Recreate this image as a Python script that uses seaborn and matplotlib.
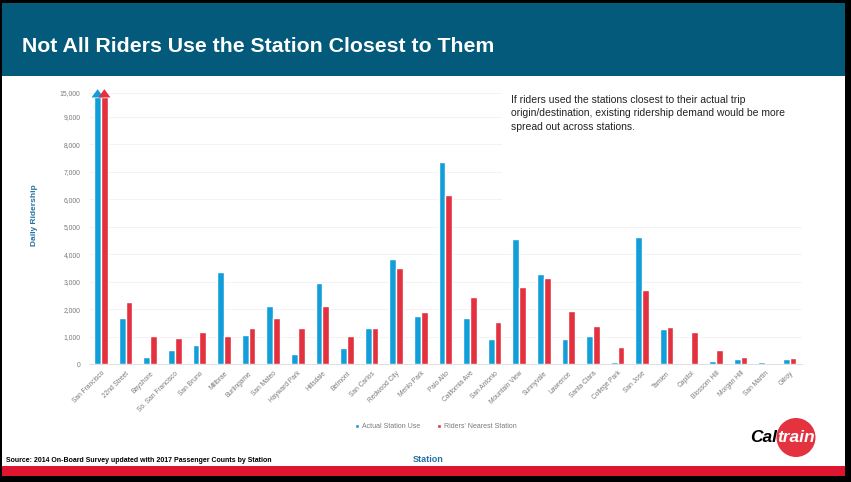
import numpy as np
import pandas as pd
import matplotlib
matplotlib.use("Agg")
import matplotlib.pyplot as plt
from matplotlib.patches import Rectangle, Circle, Polygon
import seaborn as sns

# ---------------- data ----------------
stations = ["San Francisco", "22nd Street", "Bayshore", "So. San Francisco", "San Bruno",
            "Millbrae", "Burlingame", "San Mateo", "Hayward Park", "Hillsdale", "Belmont",
            "San Carlos", "Redwood City", "Menlo Park", "Palo Alto", "California Ave",
            "San Antonio", "Mountain View", "Sunnyvale", "Lawrence", "Santa Clara",
            "College Park", "San Jose", "Tamien", "Capitol", "Blossom Hill", "Morgan Hill",
            "San Martin", "Gilroy"]
actual_use = [15000, 1690, 250, 520, 700, 3340, 1065, 2110, 380, 2960, 600,
              1330, 3830, 1756, 7370, 1670, 910, 4560, 3280, 910, 1030,
              80, 4630, 1280, 60, 110, 190, 70, 180]
nearest_station = [15000, 2250, 1040, 970, 1160, 1020, 1310, 1670, 1320, 2120, 1030,
                   1310, 3510, 1900, 6160, 2460, 1530, 2820, 3150, 1930, 1390,
                   640, 2710, 1370, 1160, 520, 265, 60, 230]
series_names = ["Actual Station Use", "Riders' Nearest Station"]
ytick_values = [0, 1000, 2000, 3000, 4000, 5000, 6000, 7000, 8000, 9000]
ytick_labels = ["0", "1,000", "2,000", "3,000", "4,000", "5,000", "6,000", "7,000",
                "8,000", "9,000", "15,000"]

title = "Not All Riders Use the Station Closest to Them"
note = ("If riders used the stations closest to their actual trip\n"
        "origin/destination, existing ridership demand would be more\n"
        "spread out across stations.")
source = "Source: 2014 On-Board Survey updated with 2017 Passenger Counts by Station"

# ---------------- style ----------------
BLUE = "#129ED9"
RED = "#E3313F"
TEAL = "#035A7A"
BAND_RED = "#DF1530"
LABEL_BLUE = "#2472A4"
GRAY = "#7A7A7A"

AXIS_BREAK = 9700   # bars above the axis break are clipped here and get an arrowhead
BREAK_TICK = 9870   # position of the "15,000" tick

sns.set_theme(style="white")
plt.rcParams["font.family"] = ["Liberation Sans", "DejaVu Sans"]

W, H = 851, 482
fig = plt.figure(figsize=(W / 100, H / 100), dpi=100)
fig.patch.set_facecolor("white")

# pixel-coordinate overlay for slide decorations
deco = fig.add_axes([0, 0, 1, 1], zorder=0)
deco.set_xlim(0, W)
deco.set_ylim(H, 0)
deco.axis("off")

# black frame
deco.add_patch(Rectangle((0, 0), W, H, facecolor="black", edgecolor="none", zorder=0))
deco.add_patch(Rectangle((2, 3), 843, 473, facecolor="white", edgecolor="none", zorder=1))
# header band
deco.add_patch(Rectangle((2, 3), 843, 73, facecolor=TEAL, edgecolor="none", zorder=2))
# bottom red band
deco.add_patch(Rectangle((2, 466), 843, 10, facecolor=BAND_RED, edgecolor="none", zorder=2))

deco.text(22, 47, title, color="white", fontsize=15.3, fontweight="bold",
          ha="left", va="center", zorder=3)
deco.text(6, 461, source, color="black", fontsize=5.0, fontweight="bold",
          ha="left", va="center", zorder=3)

# Caltrain logo
deco.add_patch(Circle((796, 437.5), 19.5, facecolor="#E4323F", edgecolor="none", zorder=3))
deco.text(777.5, 437, "Cal", color="black", fontsize=12.5, fontweight="bold",
          fontstyle="italic", ha="right", va="center", zorder=4)
deco.text(777, 437, "train", color="white", fontsize=12.5, fontweight="bold",
          fontstyle="italic", ha="left", va="center", zorder=4)

# axis titles
deco.text(35, 215, "Daily Ridership", color=LABEL_BLUE, fontsize=6, fontweight="bold",
          rotation=90, ha="center", va="center", zorder=3)
deco.text(428, 460, "Station", color=LABEL_BLUE, fontsize=6.5, fontweight="bold",
          ha="center", va="center", zorder=3)

# ---------------- chart ----------------
ax_left, ax_right = 88.7, 802.0
y0_px, px_per_unit = 364.3, 27.51 / 1000
ytop = 10100
ax = fig.add_axes([ax_left / W, (H - y0_px) / H, (ax_right - ax_left) / W,
                   ytop * px_per_unit / H], zorder=2)
ax.patch.set_alpha(0)

df = pd.DataFrame({
    "station": stations * 2,
    "series": [series_names[0]] * len(stations) + [series_names[1]] * len(stations),
    "value": actual_use + nearest_station,
})
df["shown"] = np.minimum(df["value"], AXIS_BREAK)

sns.barplot(data=df, x="station", y="shown", hue="series", order=stations,
            hue_order=series_names, palette=[BLUE, RED], width=0.55, gap=0,
            saturation=1, ax=ax, zorder=3)

# arrowheads on clipped bars
for p in list(ax.patches):
    h = p.get_height()
    if h >= AXIS_BREAK - 1:
        x0, w = p.get_x(), p.get_width()
        ax.add_patch(Polygon([(x0 - w * 0.4, h), (x0 + w * 1.4, h), (x0 + w / 2, h + 300)],
                             closed=True, facecolor=p.get_facecolor(), edgecolor="none",
                             zorder=3))

ax.set_ylim(0, ytop)
ax.set_xlim(-0.5, len(stations) - 0.5)
ax.set_yticks(ytick_values + [BREAK_TICK])
ax.set_yticklabels(ytick_labels, fontsize=4.9, color=GRAY)
ax.set_xticks(range(len(stations)))
ax.set_xticklabels(stations, fontsize=4.8, color=GRAY, rotation=45, ha="right",
                   rotation_mode="anchor")
ax.tick_params(axis="both", length=0)
ax.tick_params(axis="y", pad=6)
ax.tick_params(axis="x", pad=4)
ax.set_xlabel("")
ax.set_ylabel("")
ax.grid(axis="y", color="#F1F1F1", linewidth=0.6, zorder=0)
ax.set_axisbelow(True)
for s in ["top", "right", "left"]:
    ax.spines[s].set_visible(False)
ax.spines["bottom"].set_color("#D9D9D9")
ax.spines["bottom"].set_linewidth(0.6)

handles, labels = ax.get_legend_handles_labels()
if ax.get_legend() is not None:
    ax.get_legend().remove()
fig.legend(handles, labels, loc="center", bbox_to_anchor=(436 / W, 1 - 427 / H),
           bbox_transform=fig.transFigure, ncol=2, frameon=False, fontsize=5.0,
           labelcolor=GRAY, handlelength=0.6, handleheight=0.6, handletextpad=0.4,
           columnspacing=2.4)

# text box overlay (covers the gridlines behind it)
top = fig.add_axes([0, 0, 1, 1], zorder=4)
top.set_xlim(0, W)
top.set_ylim(H, 0)
top.axis("off")
top.patch.set_alpha(0)
top.add_patch(Rectangle((502, 84), 310, 128, facecolor="white", edgecolor="none", zorder=1))
top.text(511, 95, note, color="#222222", fontsize=7.5, ha="left", va="top",
         linespacing=1.42, zorder=2)

fig.savefig("out.png", dpi=100, facecolor="white")
